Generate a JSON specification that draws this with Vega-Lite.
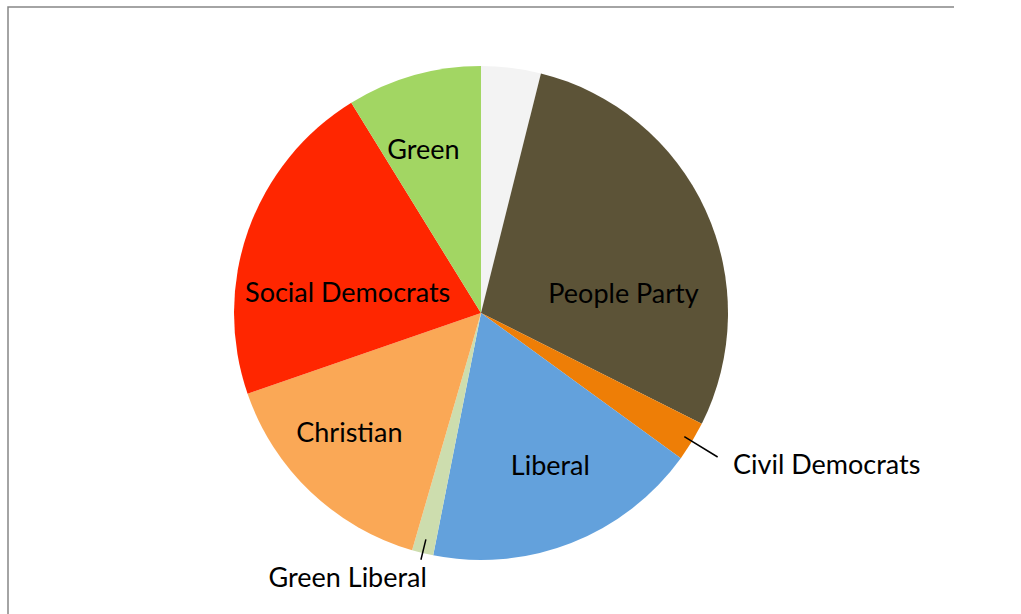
{
  "$schema": "https://vega.github.io/schema/vega-lite/v6.json",
  "width": 946,
  "height": 612,
  "autosize": {"type": "none"},
  "padding": {"left": 8, "top": 7, "right": 0, "bottom": 0},
  "background": "white",
  "view": {"stroke": "#868686", "strokeWidth": 1.5, "strokeDash": [946, 612, 4000]},
  "config": {
    "view": {"stroke": "#868686", "strokeWidth": 1.5, "strokeDash": [946, 612, 4000]},
    "style": {"cell": {"stroke": "#868686", "strokeWidth": 1.5, "strokeDash": [946, 612, 4000]}},
    "text": {"font": "Lato", "fontSize": 27, "color": "black"}
  },
  "data": {
    "values": [
      {"seq": 1, "party": "Other", "share": 3.9},
      {"seq": 2, "party": "People Party", "share": 28.5},
      {"seq": 3, "party": "Civil Democrats", "share": 2.6},
      {"seq": 4, "party": "Liberal", "share": 18.1},
      {"seq": 5, "party": "Green Liberal", "share": 1.4},
      {"seq": 6, "party": "Christian", "share": 15.2},
      {"seq": 7, "party": "Social Democrats", "share": 21.5},
      {"seq": 8, "party": "Green", "share": 8.8}
    ]
  },
  "encoding": {
    "theta": {"field": "share", "type": "quantitative", "stack": true},
    "order": {"field": "seq", "type": "quantitative"}
  },
  "layer": [
    {
      "mark": {"type": "arc", "radius": 247},
      "encoding": {
        "color": {
          "field": "party",
          "type": "nominal",
          "legend": null,
          "scale": {
            "domain": ["Other", "People Party", "Civil Democrats", "Liberal", "Green Liberal", "Christian", "Social Democrats", "Green"],
            "range": ["#F3F3F3", "#5C5337", "#EE7E06", "#63A1DC", "#CDDDAE", "#FAA856", "#FF2600", "#A2D663"]
          }
        }
      }
    },
    {
      "mark": {"type": "arc", "radius": 277, "radius2": 238, "padAngle": 0.5, "fillOpacity": 0, "stroke": "black", "strokeWidth": 1.5},
      "encoding": {
        "strokeOpacity": {"condition": {"test": "datum.party === 'Civil Democrats'", "value": 1}, "value": 0}
      }
    },
    {
      "mark": {"type": "arc", "radius": 254, "radius2": 233, "padAngle": 0.5, "fillOpacity": 0, "stroke": "black", "strokeWidth": 1.5},
      "encoding": {
        "strokeOpacity": {"condition": {"test": "datum.party === 'Green Liberal'", "value": 1}, "value": 0}
      }
    },
    {
      "mark": {"type": "text", "radius": 171, "dx": -11, "dy": 3},
      "encoding": {"text": {"condition": {"test": "datum.party === 'Green'", "field": "party"}, "value": ""}}
    },
    {
      "mark": {"type": "text", "radius": 137, "dx": 18, "dy": 39},
      "encoding": {"text": {"condition": {"test": "datum.party === 'People Party'", "field": "party"}, "value": ""}}
    },
    {
      "mark": {"type": "text", "radius": 132, "dx": -9, "dy": 25},
      "encoding": {"text": {"condition": {"test": "datum.party === 'Social Democrats'", "field": "party"}, "value": ""}}
    },
    {
      "mark": {"type": "text", "radius": 178, "dx": -9, "dy": -8},
      "encoding": {"text": {"condition": {"test": "datum.party === 'Christian'", "field": "party"}, "value": ""}}
    },
    {
      "mark": {"type": "text", "radius": 168, "dx": 8, "dy": -2},
      "encoding": {"text": {"condition": {"test": "datum.party === 'Liberal'", "field": "party"}, "value": ""}}
    },
    {
      "mark": {"type": "text", "radius": 295, "align": "left", "dx": 0, "dy": 0},
      "encoding": {"text": {"condition": {"test": "datum.party === 'Civil Democrats'", "field": "party"}, "value": ""}}
    },
    {
      "mark": {"type": "text", "radius": 271, "align": "right", "dx": 10, "dy": 3},
      "encoding": {"text": {"condition": {"test": "datum.party === 'Green Liberal'", "field": "party"}, "value": ""}}
    }
  ]
}
